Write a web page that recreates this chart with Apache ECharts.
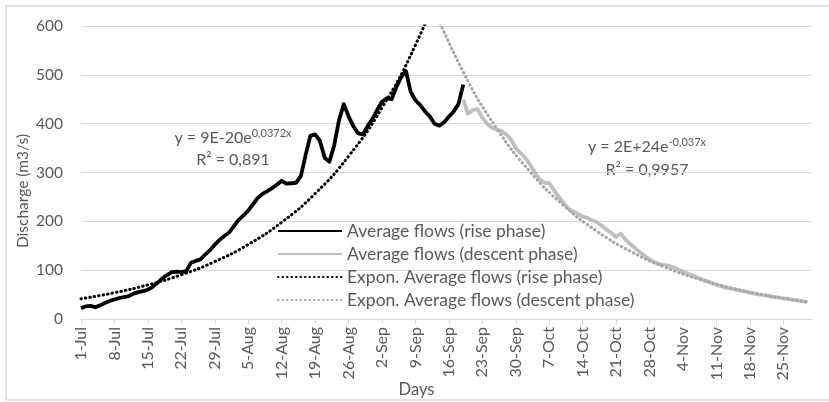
<!DOCTYPE html>
<html>
<head>
<meta charset="utf-8">
<script src="https://cdn.jsdelivr.net/npm/echarts@6/dist/echarts.min.js"></script>
<style>
html,body{margin:0;padding:0;background:#fff;}
#chart{width:829px;height:402px;}
</style>
</head>
<body>
<div id="chart"></div>
<script>
// Tick labels (every 7 days, day 0 = 1-Jul)
const tickLabels = ['1-Jul','8-Jul','15-Jul','22-Jul','29-Jul','5-Aug','12-Aug','19-Aug','26-Aug','2-Sep','9-Sep','16-Sep','23-Sep','30-Sep','7-Oct','14-Oct','21-Oct','28-Oct','4-Nov','11-Nov','18-Nov','25-Nov'];
const yTicks = [0,100,200,300,400,500,600];

// Rise phase: daily values starting 1-Jul (day 0)
const riseStart = 0;
const riseValues = [22,26,27,24,28,33,37,40,43,45,47,52,55,57,60,66,74,83,90,96,
  97,96,98,115,119,122,132,141,152,162,170,177,190,203,212,222,235,248,256,262,
  268,275,283,277,278,279,292,335,375,378,365,330,322,356,407,440,415,395,380,378,
  395,410,428,445,452,450,475,495,508,465,448,438,425,415,400,396,403,414,425,440,480];

// Descent phase: daily values starting 19-Sep (day 80)
const descentStart = 80;
const descentValues = [449,420,428,430,412,400,392,388,385,378,368,350,340,330,316,300,286,279,278,264,
  250,238,226,220,215,210,207,202,198,191,183,176,168,175,162,153,145,137,129,122,
  116,113,111,109,106,101,97,93,89,85,81,78,74,70,67,64,62,60,58,56,
  54,52,50,49,47,45,44,42,41,39,38,36,35];

// Exponential trendlines
const riseTrendDays = [0,7,14,21,28,35,42,49,56,63,70,77,80];
const riseTrendValues = [41.5,53.8,69.9,90.6,117.6,152.6,198.0,256.9,333.3,432.5,561.2,728.2,814.1];
const descentTrendDays = [73,80,87,94,101,108,115,122,129,136,143,150,152];
const descentTrendValues = [655.7,506,390.6,301.4,232.6,179.6,138.6,107.0,82.5,63.7,49.2,37.9,35.2];

const seriesNames = ['Average flows (rise phase)','Average flows (descent phase)','Expon. Average flows (rise phase)','Expon. Average flows (descent phase)'];

const FONT = 'Lato';
const TXT = '#595959';

const chart = echarts.init(document.getElementById('chart'), null, {renderer:'canvas'});
const tickDays = tickLabels.map((_, i) => i * 7);
const DOT = [0.5, 4];

chart.setOption({
  backgroundColor:'#ffffff',
  animation:false,
  textStyle:{fontFamily:FONT},
  grid:{left:81,right:17,top:26,bottom:83,outerBoundsMode:'none'},
  xAxis:{
    type:'value', min:0, max:153, interval:7,
    name:'Days', nameLocation:'middle', nameGap:62, nameMoveOverlap:false,
    nameTextStyle:{color:TXT,fontSize:16.5,fontFamily:FONT,padding:[0,60,0,0]},
    axisLine:{show:true,onZero:false,lineStyle:{color:'#d9d9d9',width:1}},
    axisTick:{show:true,length:5,lineStyle:{color:'#d9d9d9'},customValues:tickDays},
    axisLabel:{rotate:90,margin:8,color:TXT,fontSize:16,fontFamily:FONT,customValues:tickDays,
      formatter:(v)=>tickLabels[Math.round(v/7)] || ''},
    splitLine:{show:false}
  },
  yAxis:{
    type:'value', min:yTicks[0], max:yTicks[yTicks.length-1], interval:100,
    name:'Discharge (m3/s)', nameLocation:'middle', nameGap:50, nameMoveOverlap:false,
    nameTextStyle:{color:TXT,fontSize:15.5,fontFamily:FONT,padding:[0,37,0,0]},
    axisLine:{show:false}, axisTick:{show:false},
    axisLabel:{color:TXT,fontSize:15.5,fontFamily:FONT,margin:18},
    splitLine:{lineStyle:{color:'#d9d9d9',width:1}}
  },
  legend:{
    orient:'vertical', left:272, top:217, itemWidth:64, itemHeight:14, itemGap:5,
    itemStyle:{opacity:0},
    textStyle:{color:TXT,fontSize:17.5,fontFamily:FONT},
    data:seriesNames
  },
  series:[
    {name:seriesNames[0],type:'line',symbol:'none',z:3,
     lineStyle:{color:'#000000',width:3.8,join:'round'},itemStyle:{color:'#000000'},
     data:riseValues.map((v,i)=>[riseStart+i,v])},
    {name:seriesNames[1],type:'line',symbol:'none',z:3,
     lineStyle:{color:'#bfbfbf',width:3.8,join:'round'},itemStyle:{color:'#bfbfbf'},
     data:descentValues.map((v,i)=>[descentStart+i,v])},
    {name:seriesNames[2],type:'line',symbol:'none',smooth:true,z:4,
     lineStyle:{color:'#000000',width:3,type:DOT,cap:'round'},itemStyle:{color:'#000000'},
     data:riseTrendDays.map((d,i)=>[d,riseTrendValues[i]])},
    {name:seriesNames[3],type:'line',symbol:'none',smooth:true,z:4,
     lineStyle:{color:'#a6a6a6',width:3,type:DOT,cap:'round'},itemStyle:{color:'#a6a6a6'},
     data:descentTrendDays.map((d,i)=>[d,descentTrendValues[i]])}
  ],
  graphic:[
    {type:'rect',silent:true,shape:{x:6,y:6,width:850,height:394},style:{fill:'none',stroke:'#d9d9d9',lineWidth:1.5}},
    {type:'text',x:233,y:138,style:{text:'{n|y = 9E-20e}{s|0,0372x}',align:'center',verticalAlign:'middle',
      rich:{n:{fontSize:16,fontFamily:FONT,fill:TXT,lineHeight:20},s:{fontSize:11,fontFamily:FONT,fill:TXT,lineHeight:12,verticalAlign:'top'}}}},
    {type:'text',x:233,y:160,style:{text:'R² = 0,891',align:'center',verticalAlign:'middle',font:'16px '+FONT,fill:TXT}},
    {type:'text',x:647,y:147,style:{text:'{n|y = 2E+24e}{s|-0,037x}',align:'center',verticalAlign:'middle',
      rich:{n:{fontSize:16,fontFamily:FONT,fill:TXT,lineHeight:20},s:{fontSize:11,fontFamily:FONT,fill:TXT,lineHeight:12,verticalAlign:'top'}}}},
    {type:'text',x:647,y:170,style:{text:'R² = 0,9957',align:'center',verticalAlign:'middle',font:'16px '+FONT,fill:TXT}}
  ]
});
</script>
</body>
</html>
